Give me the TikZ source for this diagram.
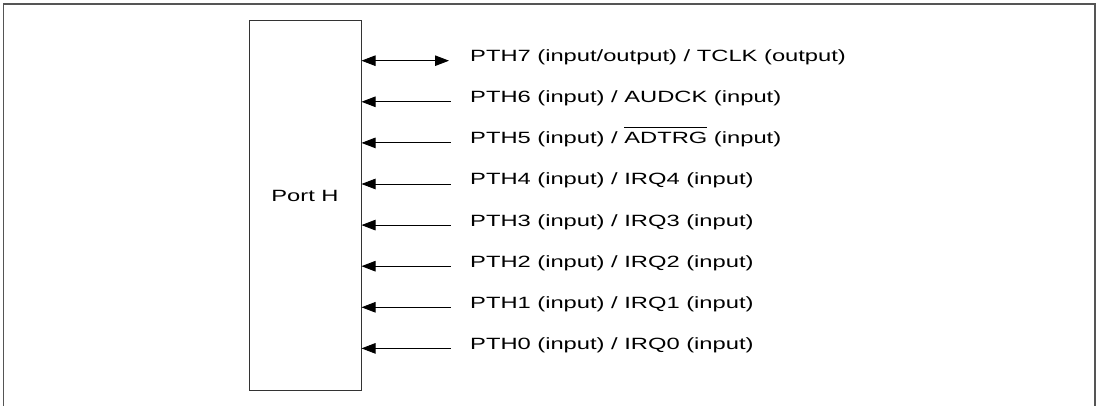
\documentclass[tikz,border=0pt]{standalone}
\usepackage{fontspec}
\setmainfont[FakeStretch=1.455]{Liberation Sans}
\usetikzlibrary{arrows.meta,positioning,calc}
\definecolor{edge}{HTML}{333333}
\definecolor{frame}{HTML}{555555}
% active-low signal name with a bar over it
\newcommand{\barsig}[1]{\vbox{\hrule height 0.8pt\kern 4.3pt\hbox{#1}}}

\begin{document}
\begin{tikzpicture}[x=1pt, y=1pt,
  pin/.style={{Triangle[length=14pt,width=10.5pt]}-, line width=0.9pt, black},
  biPin/.style={{Triangle[length=14pt,width=10.5pt]}-{Triangle[length=14pt,width=10.5pt]}, line width=0.9pt, black},
  sig/.style={anchor=base west, inner sep=0pt, font=\fontsize{16.3}{19}\selectfont}]
  \useasboundingbox (0,0) rectangle (1099,406);
  % outer frame, open at the bottom
  \draw[frame, line width=1.4pt] (3.5,0) -- (3.5,402) -- (1095,402) -- (1095,0);
  % port block
  \node[draw=edge, line width=1pt, minimum width=112pt, minimum height=370.5pt, inner sep=0pt] (port) at (305,200.25) {};
  \node[sig, anchor=base] (portlbl) at (305,204.7) {Port H};
  % bidirectional pin
  \coordinate (end0) at (449,345.3);
  \node[sig] (lbl0) at ($(end0)+(21,-1)$) {PTH7 (input/output) / TCLK (output)};
  \draw[biPin] (port.east |- end0) -- (end0);
  % input pins
  \foreach \k/\txt in {1/{PTH6 (input) / AUDCK (input)},
                       2/{PTH5 (input) / \barsig{ADTRG} (input)},
                       3/{PTH4 (input) / IRQ4 (input)},
                       4/{PTH3 (input) / IRQ3 (input)},
                       5/{PTH2 (input) / IRQ2 (input)},
                       6/{PTH1 (input) / IRQ1 (input)},
                       7/{PTH0 (input) / IRQ0 (input)}} {
    \coordinate (end\k) at (450.7,345.3-41.1*\k);
    \node[sig] (lbl\k) at ($(end\k)+(19.3,-1)$) {\txt};
    \draw[pin] (port.east |- end\k) -- (end\k);
  }
\end{tikzpicture}
\end{document}
